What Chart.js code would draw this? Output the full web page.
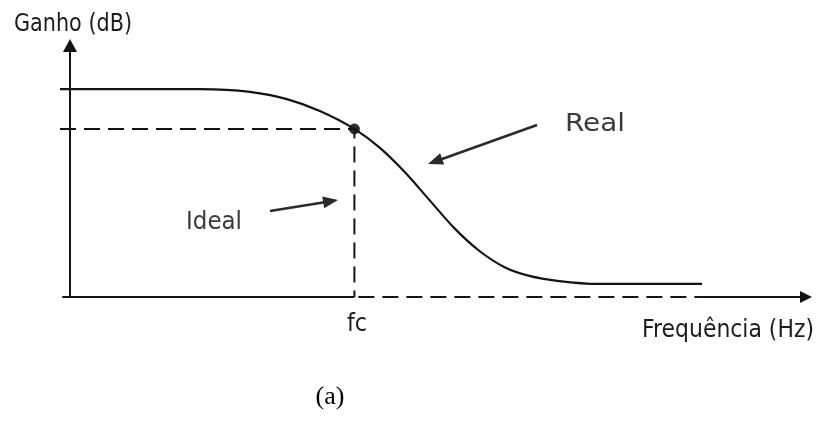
<!DOCTYPE html>
<html>
<head>
<meta charset="utf-8">
<script src="https://cdn.jsdelivr.net/npm/chart.js@4/dist/chart.umd.min.js"></script>
<style>
  html, body { margin: 0; padding: 0; background: #fff; }
  #wrap { width: 817px; height: 426px; }
</style>
</head>
<body>
<div id="wrap"><canvas id="grafico"></canvas></div>
<script>
// valores (frequencia em unidades arbitrarias 0..100, ganho 0..100)
const freqReal  = [0, 12.0, 18.6, 25.3, 30.2, 34.6, 39.2, 42.6, 45.9, 49.2, 52.5, 55.9, 59.2, 62.5, 66.5, 71.8, 85.5];
const ganhoReal = [80.9, 80.9, 80.9, 79.8, 77.0, 72.4, 65.4, 58.0, 48.6, 37.7, 26.8, 17.8, 11.6, 8.2, 6.2, 5.1, 5.1];

const fc = 39.2;          // frequencia de corte
const ganhoIdeal = 65.4;  // ganho do filtro ideal
const fimTracejado = 85.5;
const xMax = 100;
const yMax = 100;
const xEixoY = 1.33;

const rotulos = ['Ganho (dB)', 'fc', 'Frequência (Hz)', 'Real', 'Ideal', '(a)'];

const pts = (xs, ys) => xs.map((x, i) => ({ x: x, y: ys[i] }));

const preto = '#141414';

// desenha setas e textos
const extras = {
  id: 'extras',
  afterDatasetsDraw(chart) {
    const ctx = chart.ctx;
    const sx = chart.scales.x, sy = chart.scales.y;
    const X = v => sx.getPixelForValue(v), Y = v => sy.getPixelForValue(v);

    function cabeca(x1, y1, x2, y2, comp, larg) {
      const a = Math.atan2(y2 - y1, x2 - x1);
      ctx.beginPath();
      ctx.moveTo(x2, y2);
      ctx.lineTo(x2 - comp * Math.cos(a) + larg * Math.sin(a), y2 - comp * Math.sin(a) - larg * Math.cos(a));
      ctx.lineTo(x2 - comp * Math.cos(a) - larg * Math.sin(a), y2 - comp * Math.sin(a) + larg * Math.cos(a));
      ctx.closePath();
      ctx.fill();
    }
    function seta(x1, y1, x2, y2, comp, larg, cor, lw) {
      ctx.save();
      ctx.strokeStyle = cor; ctx.fillStyle = cor; ctx.lineWidth = lw;
      const a = Math.atan2(y2 - y1, x2 - x1);
      ctx.beginPath();
      ctx.moveTo(x1, y1);
      ctx.lineTo(x2 - comp * 0.8 * Math.cos(a), y2 - comp * 0.8 * Math.sin(a));
      ctx.stroke();
      cabeca(x1, y1, x2, y2, comp, larg);
      ctx.restore();
    }
    // texto ajustado a uma largura (letras estreitas como na figura)
    function texto(t, x0, base, larg, fonte, cor) {
      ctx.save();
      ctx.font = fonte;
      ctx.fillStyle = cor;
      ctx.textAlign = 'left';
      ctx.textBaseline = 'alphabetic';
      const w = ctx.measureText(t).width;
      ctx.translate(x0, base);
      ctx.scale(larg / w, 1);
      ctx.fillText(t, 0, 0);
      ctx.restore();
    }

    // eixo y (seta para cima) e eixo x (seta para a direita)
    seta(X(xEixoY), Y(0), X(xEixoY), Y(yMax) - 1, 13, 7, preto, 2);
    seta(X(fimTracejado), Y(0), X(xMax) + 1, Y(0), 12, 6, preto, 2);

    // setas indicando as curvas
    seta(537, 125, 428, 164, 15, 6, '#2a2a2a', 2.5);
    seta(270, 211, 338, 200, 15, 6, '#2a2a2a', 2.5);

    texto(rotulos[0], 14, 31, 118, '24px "DejaVu Sans"', '#1c1c1c');
    texto(rotulos[1], 347, 331, 20, '24px "DejaVu Sans"', '#1c1c1c');
    texto(rotulos[2], 642, 337, 172, '24px "DejaVu Sans"', '#1c1c1c');
    texto(rotulos[3], 565, 131, 60, '24px "DejaVu Sans"', '#3a3a3a');
    texto(rotulos[4], 186, 229, 56, '24px "DejaVu Sans"', '#3a3a3a');

    ctx.save();
    ctx.fillStyle = '#000';
    ctx.font = '26px "Liberation Serif"';
    ctx.textAlign = 'center';
    ctx.textBaseline = 'middle';
    ctx.fillText(rotulos[5], 330, 397);
    ctx.restore();
  }
};

new Chart(document.getElementById('grafico'), {
  type: 'line',
  data: {
    datasets: [
      {
        label: 'Real',
        data: pts(freqReal, ganhoReal),
        borderColor: preto,
        borderWidth: 2.2,
        pointRadius: 0,
        cubicInterpolationMode: 'monotone'
      },
      {
        label: 'Ideal',
        data: [{ x: 0, y: ganhoIdeal }, { x: fc, y: ganhoIdeal }, { x: fc, y: 0 }],
        borderColor: preto,
        borderWidth: 2,
        borderDash: [16, 8],
        pointRadius: 0,
        tension: 0
      },
      {
        label: 'eixo x',
        data: [{ x: 0.3, y: 0 }, { x: fc, y: 0 }],
        borderColor: preto,
        borderWidth: 2,
        pointRadius: 0
      },
      {
        label: 'eixo x tracejado',
        data: [{ x: fc, y: 0 }, { x: fimTracejado, y: 0 }],
        borderColor: preto,
        borderWidth: 2,
        borderDash: [16, 8],
        borderDashOffset: -4,
        pointRadius: 0
      },
      {
        label: 'fc',
        data: [{ x: fc, y: ganhoIdeal }],
        showLine: false,
        pointRadius: 5,
        pointBackgroundColor: '#2a2a2a',
        pointBorderColor: '#2a2a2a'
      }
    ]
  },
  options: {
    responsive: true,
    maintainAspectRatio: false,
    animation: false,
    events: [],
    layout: { padding: { left: 60, right: 5, top: 40, bottom: 129 } },
    plugins: { legend: { display: false }, tooltip: { enabled: false } },
    scales: {
      x: { type: 'linear', min: 0, max: xMax, display: false },
      y: { type: 'linear', min: 0, max: yMax, display: false }
    },
    elements: { line: { fill: false } },
    clip: false
  },
  plugins: [extras]
});
</script>
</body>
</html>
